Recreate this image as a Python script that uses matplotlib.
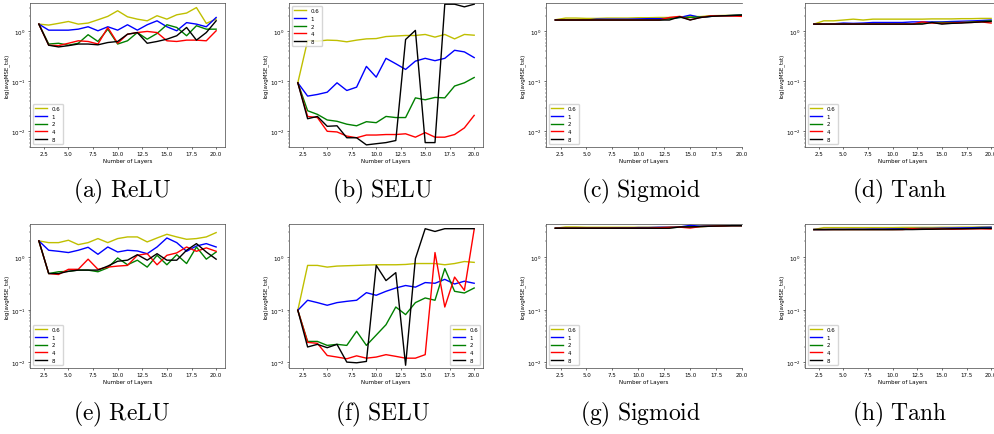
import matplotlib
matplotlib.use("Agg")
import matplotlib.pyplot as plt

plt.rcParams['mathtext.fontset'] = 'cm'

layers = list(range(2, 21))
lr_labels = ['0.6', '1', '2', '4', '8']
lr_colors = ['y', 'b', 'g', 'r', 'k']

# one list per learning rate (0.6, 1, 2, 4, 8), values at 2..20 layers
relu_top = [
    [1.40, 1.34, 1.45, 1.58, 1.40, 1.47, 1.71, 2.00, 2.59, 1.96, 1.76, 1.63, 2.06, 1.76, 2.15, 2.33, 3.00, 1.45, 1.76],
    [1.40, 1.06, 1.06, 1.06, 1.11, 1.24, 1.03, 1.24, 1.06, 1.36, 1.06, 1.36, 1.63, 1.24, 1.03, 1.50, 1.40, 1.24, 1.90],
    [1.40, 0.56, 0.58, 0.53, 0.58, 0.86, 0.63, 1.11, 0.56, 0.65, 0.95, 0.70, 0.91, 1.36, 1.20, 0.82, 1.30, 1.11, 1.11],
    [1.40, 0.53, 0.52, 0.58, 0.65, 0.63, 0.56, 1.20, 0.58, 0.88, 0.95, 1.00, 0.95, 0.65, 0.63, 0.67, 0.67, 0.65, 1.03],
    [1.40, 0.53, 0.49, 0.52, 0.56, 0.56, 0.54, 0.60, 0.63, 0.88, 0.95, 0.58, 0.63, 0.70, 0.82, 1.20, 0.67, 0.95, 1.63],
]
selu_top = [
    [0.094, 0.66, 0.64, 0.67, 0.66, 0.62, 0.67, 0.71, 0.72, 0.79, 0.81, 0.83, 0.83, 0.87, 0.77, 0.87, 0.71, 0.87, 0.84],
    [0.094, 0.051, 0.055, 0.061, 0.094, 0.066, 0.077, 0.20, 0.122, 0.29, 0.226, 0.174, 0.255, 0.29, 0.26, 0.29, 0.42, 0.39, 0.30],
    [0.094, 0.026, 0.022, 0.017, 0.016, 0.014, 0.013, 0.0157, 0.015, 0.020, 0.019, 0.019, 0.047, 0.043, 0.048, 0.047, 0.081, 0.094, 0.12],
    [0.094, 0.020, 0.019, 0.0101, 0.0098, 0.0081, 0.0075, 0.0085, 0.0085, 0.0087, 0.0087, 0.0090, 0.0077, 0.0095, 0.0077, 0.0077, 0.0087, 0.0118, 0.021],
    [0.094, 0.018, 0.020, 0.0127, 0.013, 0.0075, 0.0075, 0.0054, 0.0057, 0.0060, 0.0066, 0.69, 1.05, 0.0060, 0.0060, 3.5, 3.5, 3.1, 3.5],
]
sigmoid_top = [
    [1.71, 1.85, 1.85, 1.82, 1.82, 1.85, 1.85, 1.85, 1.88, 1.88, 1.90, 1.90, 1.92, 2.00, 1.98, 2.06, 2.08, 2.10, 2.12],
    [1.69, 1.69, 1.69, 1.69, 1.76, 1.76, 1.76, 1.76, 1.78, 1.80, 1.80, 1.82, 1.90, 2.12, 1.90, 2.00, 2.05, 2.08, 2.12],
    [1.69, 1.69, 1.69, 1.69, 1.69, 1.69, 1.69, 1.69, 1.69, 1.69, 1.69, 1.80, 1.90, 1.90, 1.95, 2.00, 2.05, 2.08, 2.12],
    [1.69, 1.69, 1.69, 1.69, 1.69, 1.69, 1.69, 1.69, 1.69, 1.69, 1.69, 1.90, 2.00, 1.71, 1.90, 2.05, 2.05, 2.03, 2.00],
    [1.69, 1.69, 1.69, 1.69, 1.69, 1.69, 1.69, 1.69, 1.69, 1.69, 1.69, 1.69, 1.96, 1.69, 1.90, 2.00, 2.05, 2.08, 2.12],
]
tanh_top = [
    [1.40, 1.63, 1.63, 1.69, 1.76, 1.69, 1.76, 1.76, 1.76, 1.76, 1.76, 1.76, 1.78, 1.78, 1.78, 1.80, 1.80, 1.82, 1.82],
    [1.40, 1.40, 1.42, 1.47, 1.45, 1.47, 1.51, 1.51, 1.51, 1.51, 1.55, 1.55, 1.55, 1.55, 1.58, 1.60, 1.62, 1.65, 1.69],
    [1.40, 1.40, 1.40, 1.40, 1.40, 1.40, 1.40, 1.40, 1.40, 1.40, 1.40, 1.47, 1.51, 1.51, 1.51, 1.51, 1.55, 1.58, 1.63],
    [1.40, 1.40, 1.40, 1.40, 1.40, 1.40, 1.40, 1.40, 1.40, 1.40, 1.40, 1.55, 1.47, 1.45, 1.47, 1.51, 1.51, 1.55, 1.47],
    [1.40, 1.40, 1.40, 1.40, 1.40, 1.40, 1.40, 1.40, 1.40, 1.40, 1.40, 1.40, 1.51, 1.40, 1.45, 1.47, 1.51, 1.55, 1.58],
]
relu_bottom = [
    [2.05, 1.90, 1.90, 2.11, 1.74, 1.90, 2.27, 1.90, 2.27, 2.44, 2.44, 1.96, 2.33, 2.74, 2.44, 2.20, 2.27, 2.44, 2.95],
    [2.05, 1.36, 1.30, 1.23, 1.36, 1.55, 1.14, 1.57, 1.26, 1.36, 1.32, 1.17, 1.57, 2.33, 1.90, 1.30, 1.64, 1.82, 1.57],
    [2.05, 0.49, 0.53, 0.54, 0.57, 0.57, 0.53, 0.63, 0.97, 0.72, 0.88, 0.65, 1.09, 0.72, 1.12, 0.76, 1.57, 0.92, 1.26],
    [2.05, 0.49, 0.47, 0.59, 0.59, 0.92, 0.59, 0.65, 0.68, 0.70, 1.09, 1.17, 0.72, 1.09, 1.21, 1.57, 1.30, 1.51, 1.30],
    [2.05, 0.49, 0.49, 0.54, 0.57, 0.57, 0.57, 0.68, 0.84, 0.88, 1.12, 0.88, 1.17, 0.88, 0.88, 1.36, 1.82, 1.26, 0.92],
]
selu_bottom = [
    [0.098, 0.70, 0.70, 0.65, 0.68, 0.69, 0.70, 0.71, 0.72, 0.72, 0.72, 0.73, 0.76, 0.76, 0.76, 0.72, 0.76, 0.83, 0.80],
    [0.098, 0.152, 0.137, 0.122, 0.137, 0.145, 0.152, 0.212, 0.189, 0.225, 0.26, 0.29, 0.27, 0.33, 0.32, 0.38, 0.31, 0.35, 0.32],
    [0.098, 0.025, 0.025, 0.021, 0.022, 0.021, 0.039, 0.021, 0.033, 0.052, 0.113, 0.081, 0.137, 0.168, 0.152, 0.61, 0.225, 0.209, 0.26],
    [0.098, 0.024, 0.023, 0.0135, 0.0126, 0.0117, 0.0133, 0.0120, 0.0126, 0.0140, 0.0130, 0.0120, 0.0120, 0.0140, 1.23, 0.113, 0.42, 0.235, 3.4],
    [0.098, 0.0196, 0.022, 0.019, 0.022, 0.0101, 0.0098, 0.0104, 0.70, 0.36, 0.51, 0.0088, 0.94, 3.5, 3.1, 3.5, 3.5, 3.5, 3.5],
]
sigmoid_bottom = [
    [3.57, 3.78, 3.78, 3.73, 3.73, 3.73, 3.73, 3.73, 3.73, 3.73, 3.73, 3.78, 3.78, 3.85, 3.85, 3.90, 3.95, 4.00, 4.00],
    [3.57, 3.57, 3.57, 3.57, 3.57, 3.57, 3.62, 3.62, 3.68, 3.68, 3.73, 3.73, 3.78, 4.05, 3.90, 3.95, 3.95, 4.00, 4.00],
    [3.57, 3.57, 3.57, 3.57, 3.57, 3.57, 3.57, 3.57, 3.57, 3.57, 3.57, 3.68, 3.73, 3.80, 3.85, 3.90, 3.95, 4.00, 4.00],
    [3.57, 3.57, 3.57, 3.57, 3.57, 3.57, 3.57, 3.57, 3.57, 3.57, 3.65, 3.70, 3.75, 3.60, 3.85, 3.90, 3.95, 4.00, 4.00],
    [3.57, 3.57, 3.57, 3.57, 3.57, 3.57, 3.57, 3.57, 3.57, 3.57, 3.57, 3.57, 3.78, 3.78, 3.85, 3.90, 3.95, 4.00, 4.00],
]
tanh_bottom = [
    [3.37, 3.67, 3.67, 3.67, 3.67, 3.67, 3.67, 3.67, 3.67, 3.70, 3.70, 3.70, 3.70, 3.72, 3.72, 3.75, 3.75, 3.78, 3.78],
    [3.37, 3.37, 3.40, 3.40, 3.42, 3.42, 3.45, 3.45, 3.48, 3.50, 3.52, 3.55, 3.55, 3.58, 3.60, 3.62, 3.65, 3.70, 3.73],
    [3.37, 3.37, 3.37, 3.37, 3.37, 3.37, 3.37, 3.37, 3.37, 3.40, 3.42, 3.45, 3.45, 3.48, 3.50, 3.50, 3.52, 3.55, 3.55],
    [3.37, 3.37, 3.37, 3.37, 3.37, 3.37, 3.37, 3.37, 3.37, 3.37, 3.50, 3.42, 3.45, 3.48, 3.42, 3.45, 3.48, 3.48, 3.45],
    [3.37, 3.37, 3.37, 3.37, 3.37, 3.37, 3.37, 3.37, 3.37, 3.37, 3.37, 3.40, 3.42, 3.45, 3.48, 3.50, 3.52, 3.55, 3.55],
]

captions = ['(a) ReLU', '(b) SELU', '(c) Sigmoid', '(d) Tanh',
            '(e) ReLU', '(f) SELU', '(g) Sigmoid', '(h) Tanh']

W, H = 994, 435
fig = plt.figure(figsize=(W / 100, H / 100), dpi=100)

# panel layout in pixels: left, top, width, height
col_left = [30, 289, 546, 805]
col_width = [195, 194, 196, 195]
col_xmax = [20.9, 20.9, 20.0, 20.9]
row_top = [4, 225]
row_ylim = [(0.0049, 3.7), (0.0078, 4.3)]
cap_x = [122, 383, 641, 899]
cap_y = [191, 414]

panels = [relu_top, selu_top, sigmoid_top, tanh_top,
          relu_bottom, selu_bottom, sigmoid_bottom, tanh_bottom]
legend_locs = ['lower left', 'upper left', 'lower left', 'lower left',
               'lower left', 'lower right', 'lower left', 'lower left']

fs = 4.0
for i, series in enumerate(panels):
    r, c = divmod(i, 4)
    left, top, w, h = col_left[c], row_top[r], col_width[c], 144
    ax = fig.add_axes([left / W, 1 - (top + h) / H, w / W, h / H])
    for vals, col, lab in zip(series, lr_colors, lr_labels):
        ax.plot(layers, vals, color=col, lw=1.0, label=lab)
    ax.set_yscale('log')
    ax.set_ylim(*row_ylim[r])
    ax.set_xlim(1.1, col_xmax[c])
    ax.set_xticks([2.5, 5.0, 7.5, 10.0, 12.5, 15.0, 17.5, 20.0])
    ax.tick_params(labelsize=fs, length=1.6, width=0.4, pad=1.5)
    ax.tick_params(which='minor', length=0.9, width=0.3)
    ax.set_xlabel('Number of Layers', fontsize=fs, labelpad=1.5)
    ax.set_ylabel('log(avgMSE_tst)', fontsize=fs, labelpad=1.5)
    for sp in ax.spines.values():
        sp.set_linewidth(0.5)
        sp.set_color('#444444')
    if col_xmax[c] < 20.9:
        ax.spines['right'].set_visible(False)
    ax.legend(loc=legend_locs[i], fontsize=fs, handlelength=2.2)
    fig.text(cap_x[c] / W, 1 - cap_y[r] / H,
             r'$\mathrm{' + captions[i].replace(' ', r'\ ') + '}$',
             ha='center', va='center', fontsize=17)

fig.savefig('out.png', dpi=100)
